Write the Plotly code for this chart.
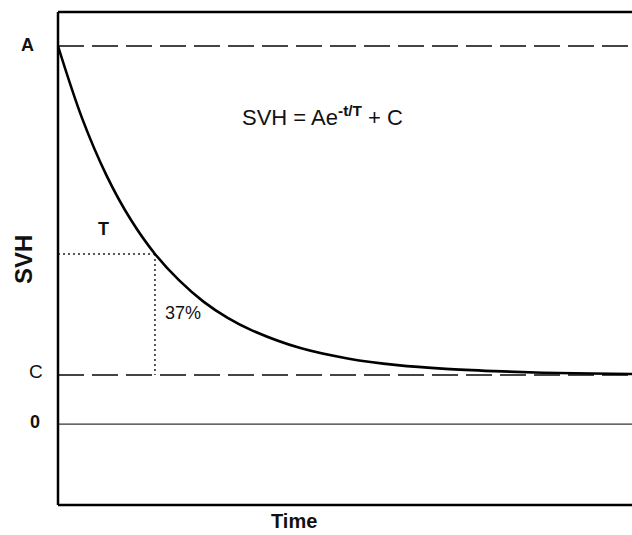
import plotly.graph_objects as go

# Values (time in units of T, SVH normalised so A = 1)
time_pts = [0, 0.25, 0.5, 0.75, 1.0, 1.25, 1.5, 1.75, 2.0, 2.5, 3.0, 3.5, 4.0, 4.5, 5.0, 5.5, 6.0]
svh_vals = [1.0, 0.808, 0.658, 0.541, 0.450, 0.380, 0.324, 0.281, 0.248, 0.201, 0.173,
            0.156, 0.146, 0.140, 0.136, 0.134, 0.132]
level_A = 1.0
level_C = 0.13
level_zero = 0.0
tau = 1.0
tau_level = 0.450
x_max = 5.92

FONT = "Arial, Liberation Sans, Helvetica, sans-serif"
NARROW = "Liberation Sans Narrow, Arial Narrow, Arial, Liberation Sans, sans-serif"

fig = go.Figure()

# A and C dashed reference lines
for lvl in (level_A, level_C):
    fig.add_trace(go.Scatter(x=[0, x_max], y=[lvl, lvl], mode="lines",
                             line=dict(color="#444444", width=2, dash="26px,8px"),
                             hoverinfo="skip", showlegend=False))
# zero line
fig.add_trace(go.Scatter(x=[0, x_max], y=[level_zero, level_zero], mode="lines",
                         line=dict(color="#333333", width=1.4),
                         hoverinfo="skip", showlegend=False))
# dotted T construction lines
fig.add_trace(go.Scatter(x=[0, tau], y=[tau_level, tau_level], mode="lines",
                         line=dict(color="#222222", width=1.5, dash="2px,3px"),
                         hoverinfo="skip", showlegend=False))
fig.add_trace(go.Scatter(x=[tau, tau], y=[tau_level, level_C], mode="lines",
                         line=dict(color="#222222", width=1.5, dash="2px,3px"),
                         hoverinfo="skip", showlegend=False))
# decay curve
fig.add_trace(go.Scatter(x=time_pts, y=svh_vals, mode="lines",
                         line=dict(color="black", width=2.6, shape="spline"),
                         hoverinfo="skip", showlegend=False))

# frame: left, top, bottom (right side is cut off)
frame = dict(color="black", width=2.5)
fig.add_shape(type="line", xref="paper", yref="paper", x0=0, x1=0, y0=0, y1=1, line=frame)
fig.add_shape(type="line", xref="paper", yref="paper", x0=0, x1=1.01, y0=1, y1=1, line=frame)
fig.add_shape(type="line", xref="paper", yref="paper", x0=0, x1=1.01, y0=0, y1=0, line=frame)

def ann(text, x, y, size, bold=False, family=FONT, angle=0):
    fig.add_annotation(text=f"<b>{text}</b>" if bold else text, x=x, y=y,
                       xref="paper", yref="paper", showarrow=False,
                       xanchor="center", yanchor="middle", textangle=angle,
                       font=dict(family=family, size=size, color="#111111"))

ann("A", -0.0523, 0.934, 18, bold=True)
ann("C", -0.0383, 0.270, 19)
ann("0", -0.0401, 0.169, 18, bold=True)
ann("T", 0.0801, 0.560, 18, bold=True)
ann("37%", 0.2178, 0.389, 18, family=NARROW)
ann("SVH = Ae<sup><b>-t/T</b></sup> + C", 0.4608, 0.789, 22)
ann("SVH", -0.0592, 0.497, 24, bold=True, angle=-90)
ann("Time", 0.412, -0.0325, 20, bold=True)

fig.update_xaxes(range=[0, x_max], visible=False, fixedrange=True)
fig.update_yaxes(range=[-0.214, 1.09], visible=False, fixedrange=True)
fig.update_layout(width=632, height=535,
                  margin=dict(l=58, r=0, t=12, b=30),
                  plot_bgcolor="white", paper_bgcolor="white",
                  showlegend=False)

fig.write_html("out.html")
